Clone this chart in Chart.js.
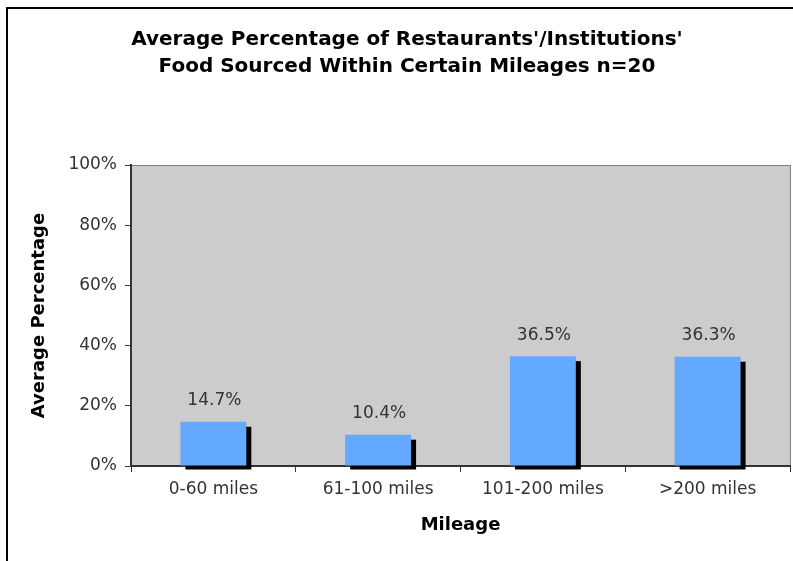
<!DOCTYPE html>
<html>
<head>
<meta charset="utf-8">
<script src="https://cdn.jsdelivr.net/npm/chart.js@4.4.1/dist/chart.umd.min.js"></script>
<style>
  html, body { margin: 0; padding: 0; background: #ffffff; }
  #wrap { position: relative; width: 793px; height: 561px; overflow: hidden; }
  #frame { position: absolute; left: 6px; top: 7px; width: 800px; height: 600px;
           border-left: 2px solid #000; border-top: 2px solid #000; box-sizing: border-box; }
  #c { position: absolute; left: 0; top: 0; }
</style>
</head>
<body>
<div id="wrap">
  <div id="frame"></div>
  <canvas id="c" width="793" height="561"></canvas>
</div>
<script>
const titleLines = ["Average Percentage of Restaurants'/Institutions'", "Food Sourced Within Certain Mileages n=20"];
const categories = ["0-60 miles", "61-100 miles", "101-200 miles", ">200 miles"];
const averagePercentages = [14.7, 10.4, 36.5, 36.3];
const yTicks = [0, 20, 40, 60, 80, 100];
const xAxisTitle = "Mileage";
const yAxisTitle = "Average Percentage";

const FONT = "'DejaVu Sans', Verdana, sans-serif";

const plotBackground = {
  id: 'plotBackground',
  beforeDraw(chart) {
    const { ctx, chartArea: a } = chart;
    ctx.save();
    ctx.fillStyle = '#cccccc';
    ctx.fillRect(a.left, a.top, a.right - a.left, a.bottom - a.top);
    ctx.strokeStyle = '#808080';
    ctx.lineWidth = 1;
    ctx.strokeRect(a.left + 0.5, a.top + 0.5, a.right - a.left, a.bottom - a.top - 1);
    ctx.restore();
  }
};

const barShadow = {
  id: 'barShadow',
  beforeDatasetsDraw(chart) {
    const { ctx } = chart;
    const meta = chart.getDatasetMeta(0);
    ctx.save();
    ctx.fillStyle = '#000000';
    meta.data.forEach(bar => {
      const p = bar.getProps(['x', 'y', 'base', 'width'], true);
      ctx.fillRect(p.x - p.width / 2 + 5, p.y + 5, p.width, p.base - p.y - 1);
    });
    ctx.restore();
  }
};

const valueLabels = {
  id: 'valueLabels',
  afterDatasetsDraw(chart) {
    const { ctx } = chart;
    const meta = chart.getDatasetMeta(0);
    const values = chart.data.datasets[0].data;
    ctx.save();
    ctx.font = '17px ' + FONT;
    ctx.fillStyle = '#333333';
    ctx.textAlign = 'center';
    ctx.textBaseline = 'middle';
    meta.data.forEach((bar, i) => {
      const p = bar.getProps(['x', 'y'], true);
      ctx.fillText(values[i].toFixed(1) + '%', p.x + 1, p.y - 21);
    });
    ctx.restore();
  }
};

new Chart(document.getElementById('c'), {
  type: 'bar',
  data: {
    labels: categories,
    datasets: [{
      data: averagePercentages,
      backgroundColor: '#63a9ff',
      borderWidth: 0,
      barPercentage: 0.4,
      categoryPercentage: 1.0
    }]
  },
  options: {
    responsive: false,
    devicePixelRatio: 1,
    animation: false,
    layout: { padding: { left: 24, right: 3, top: 0, bottom: 0 } },
    plugins: {
      legend: { display: false },
      tooltip: { enabled: false },
      title: {
        display: true,
        text: titleLines,
        color: '#000000',
        font: { family: FONT, size: 20, weight: 'bold', lineHeight: 1.35 },
        padding: { top: 26.5, bottom: 84.5 }
      }
    },
    scales: {
      x: {
        grid: { offset: true, drawOnChartArea: false, drawTicks: true, tickLength: 6, color: '#333333' },
        border: { color: '#333333', width: 2 },
        ticks: { color: '#333333', font: { family: FONT, size: 17 }, padding: 7, maxRotation: 0 },
        title: { display: true, text: xAxisTitle, color: '#000000',
                 font: { family: FONT, size: 18, weight: 'bold' }, padding: { top: 0, bottom: 25 } },
        afterFit(scale) { scale.height = 95; }
      },
      y: {
        min: 0, max: 100,
        afterBuildTicks(scale) { scale.ticks = yTicks.map(v => ({ value: v })); },
        grid: { drawOnChartArea: false, drawTicks: true, tickLength: 6, color: '#333333' },
        border: { color: '#333333', width: 2 },
        ticks: { color: '#333333', font: { family: FONT, size: 17 }, padding: 8,
                 callback: v => v + '%' },
        title: { display: true, text: yAxisTitle, color: '#000000',
                 font: { family: FONT, size: 18, weight: 'bold' }, padding: { top: 5, bottom: 0 } },
        afterFit(scale) { scale.width = 107; }
      }
    }
  },
  plugins: [plotBackground, barShadow, valueLabels]
});
</script>
</body>
</html>
